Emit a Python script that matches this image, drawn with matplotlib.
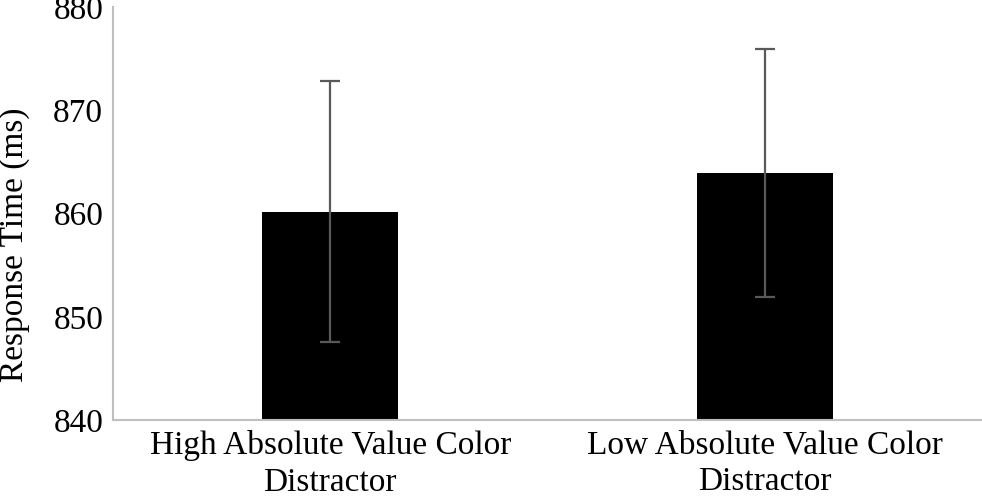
import matplotlib
matplotlib.use('Agg')
import matplotlib.pyplot as plt

categories = ['High Absolute Value Color\nDistractor', 'Low Absolute Value Color\nDistractor']
means = [860.2, 863.9]
errors = [12.65, 12.0]

plt.rcParams['font.family'] = 'Liberation Serif'

fig = plt.figure(figsize=(9.82, 4.99), dpi=100)
ax = fig.add_axes([0.115, 0.158, 0.885, 0.828])

x = range(len(categories))
ax.bar(x, [m - 840 for m in means], bottom=840, width=0.313, color='black')
ax.errorbar(x, means, yerr=errors, fmt='none', ecolor='#595959',
            elinewidth=1.6, capsize=7, capthick=1.6)

ax.set_xlim(-0.5, 1.5)
ax.set_ylim(840, 880)
ax.set_yticks([840, 850, 860, 870, 880])
ax.set_xticks(list(x))
ax.set_xticklabels(categories, fontsize=24, linespacing=1.27)
ax.tick_params(axis='both', length=0, labelsize=24)
ax.tick_params(axis='y', pad=7)
ax.tick_params(axis='x', pad=7)
ax.set_ylabel('Response Time (ms)', fontsize=24)
ax.yaxis.set_label_coords(-0.0955, 0.424)

for s in ['top', 'right']:
    ax.spines[s].set_visible(False)
for s in ['left', 'bottom']:
    ax.spines[s].set_color('#BFBFBF')
    ax.spines[s].set_linewidth(1.5)

fig.savefig('out.png', dpi=100)
